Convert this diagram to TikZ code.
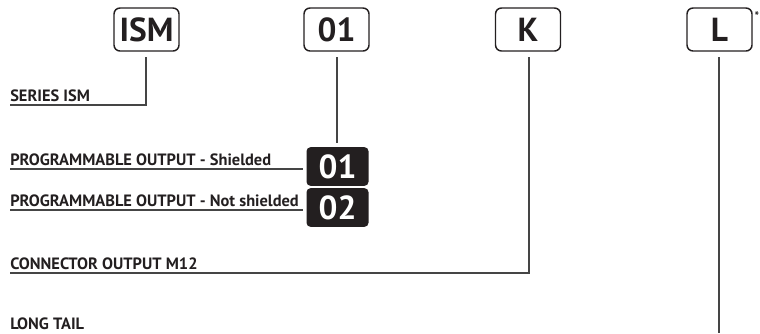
\documentclass[tikz,border=0pt]{standalone}
\usepackage{fontspec}
\setmainfont{PT Sans}
\definecolor{ink}{HTML}{231F20}
\definecolor{wire}{HTML}{454545}
\tikzset{
  codebox/.style={draw=ink, line width=1.1pt, rounded corners=4.5pt, minimum width=48.75pt, minimum height=32.25pt, inner sep=0pt, text=ink, font=\fontsize{25}{30}\selectfont\bfseries},
  blackbox/.style={fill=ink, rounded corners=3pt, minimum width=46.5pt, minimum height=29pt, inner sep=0pt, text=white, font=\fontsize{25}{30}\selectfont\bfseries},
  lbl/.style={anchor=base west, inner sep=0pt, text=ink, font=\fontsize{12.3}{14}\selectfont\bfseries},
  conn/.style={draw=wire, line width=0.8pt},
}
\begin{document}
\begin{tikzpicture}[x=0.75pt, y=-0.75pt]
\useasboundingbox (0,0) rectangle (760,333);
% code boxes
\node[codebox] (ism) at (146.5,29.5) {ISM};
\node[codebox] (c01) at (336.5,29.5) {01};
\node[codebox] (k) at (528,29.5) {K};
\node[codebox] (l) at (719.5,29.5) {L};
\node[inner sep=0pt, text=ink, font=\fontsize{9}{9}\selectfont\bfseries] (star) at (757,16) {*};
% black option boxes
\node[blackbox] (b01) at (337.5,166.5) {01};
\node[blackbox] (b02) at (337.5,207.5) {02};
% labels
\node[lbl] (series) at (10,101) {SERIES ISM};
\node[lbl] (shield) at (10,165) {PROGRAMMABLE OUTPUT - Shielded};
\node[lbl] (noshield) at (10,206) {PROGRAMMABLE OUTPUT - Not shielded};
\node[lbl] (m12) at (10,269) {CONNECTOR OUTPUT M12};
\node[lbl] (tail) at (10,329) {LONG TAIL};
% connector end points
\coordinate (ismT) at (146,57);
\coordinate (serU) at (10,105);
\coordinate (c01T) at (337,57);
\coordinate (c01B) at (337,143);
\coordinate (shU) at (10,169);
\coordinate (shE) at (303,169);
\coordinate (nsU) at (10,210);
\coordinate (nsE) at (303,210);
\coordinate (kT) at (529,57);
\coordinate (m12U) at (10,273);
\coordinate (lT) at (719,57);
\coordinate (lB) at (719,333);
% connectors
\draw[conn] (ismT) |- (serU);
\draw[conn] (c01T) -- (c01B);
\draw[conn] (shU) -- (shE);
\draw[conn] (nsU) -- (nsE);
\draw[conn] (kT) |- (m12U);
\draw[conn] (lT) -- (lB);
\end{tikzpicture}
\end{document}
